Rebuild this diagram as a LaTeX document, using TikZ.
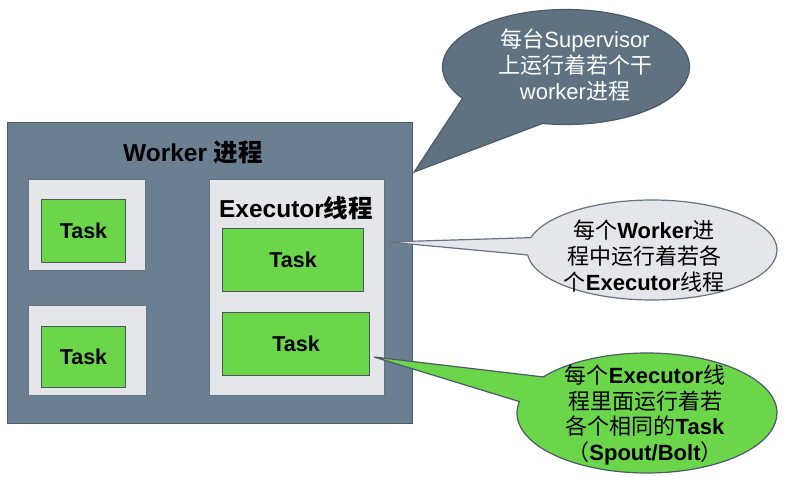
\documentclass[tikz,border=0pt]{standalone}
\usepackage{fontspec}
\setmainfont{Liberation Sans}
\newfontfamily\cjk{Noto Sans CJK SC}
\newcommand{\zh}[1]{{\cjk #1}}
\usetikzlibrary{shapes.callouts,positioning}

\definecolor{slate}{HTML}{6A7F91}
\definecolor{slateline}{HTML}{4A5A68}
\definecolor{execfill}{HTML}{E4E6E9}
\definecolor{execline}{HTML}{66737F}
\definecolor{taskgreen}{HTML}{6CD64A}
\definecolor{taskline}{HTML}{4D5560}
\definecolor{bubbledark}{HTML}{5E7282}

\begin{document}
\begin{tikzpicture}[x=1pt, y=-1pt,
  worker/.style={draw=slateline, fill=slate, line width=1.2pt, inner sep=0pt},
  executor/.style={draw=execline, fill=execfill, line width=1pt, inner sep=0pt},
  task/.style={draw=taskline, fill=taskgreen, line width=1pt, inner sep=0pt, font=\bfseries\fontsize{21.5}{25}\selectfont},
  title/.style={font=\bfseries\fontsize{24.5}{28}\selectfont},
  bubble/.style={ellipse callout, draw=slateline, line width=1.2pt, inner sep=0pt},
  bubbletext/.style={align=center, font=\fontsize{22}{26}\selectfont}
]
\useasboundingbox (0,0) rectangle (788,477);

% worker process
\node[worker, anchor=north west, minimum width=405, minimum height=301] (worker) at (7,122) {};
\node[title] (wtitle) at (193,152) {Worker \zh{\bfseries 进程}};

% executors
\node[executor, anchor=north west, minimum width=117, minimum height=91] (exec1) at (28,179) {};
\node[executor, anchor=north west, minimum width=118, minimum height=90] (exec2) at (28,305) {};
\node[executor, anchor=north west, minimum width=175, minimum height=216] (exec3) at (209,179) {};
\node[title] (etitle) at (296,208) {Executor\zh{\bfseries 线程}};

% tasks
\node[task, anchor=north west, minimum width=84, minimum height=63] (task1) at (41,199) {Task};
\node[task, anchor=north west, minimum width=84, minimum height=61] (task2) at (41,326) {Task};
\node[task, anchor=north west, minimum width=141, minimum height=63] (task3) at (222,228) {Task};
\node[task, anchor=north west, minimum width=147, minimum height=63] (task4) at (222,312) {Task};

% callouts
\coordinate (tip1) at ([xshift=1pt,yshift=-50pt]worker.north east);
\coordinate (tip2) at ([xshift=3pt,yshift=-63pt]exec3.north east);
\coordinate (tip3) at ([xshift=4pt,yshift=-45pt]task4.north east);

\node[bubble, fill=bubbledark, draw=slateline, minimum width=247, minimum height=115,
  callout absolute pointer={(tip1)}, callout pointer arc=46] (note1) at (566,67) {};
\node[bubbletext, text=white] at (575,65) {\zh{每台}Supervisor\\\zh{上运行着若个干}\\worker\zh{进程}};

\node[bubble, fill=execfill, draw=execline, minimum width=250, minimum height=100,
  callout absolute pointer={(tip2)}, callout pointer arc=20] (note2) at (652,250) {};
\node[bubbletext, font=\bfseries\fontsize{22}{26}\selectfont] at (644,256) {\zh{\mdseries 每个}Worker\zh{\mdseries 进}\\\zh{\mdseries 程中运行着若各}\\\zh{\mdseries 个}Executor\zh{\mdseries 线程}};

\node[bubble, fill=taskgreen, draw=slateline, minimum width=260, minimum height=120,
  callout absolute pointer={(tip3)}, callout pointer arc=26] (note3) at (647,413) {};
\node[bubbletext, font=\bfseries\fontsize{22}{25.5}\selectfont] at (645,415) {\zh{\mdseries 每个}Executor\zh{\mdseries 线}\\\zh{\mdseries 程里面运行着若}\\\zh{\mdseries 各个相同的}Task\\\zh{\mdseries （}Spout/Bolt\zh{\mdseries ）}};
\end{tikzpicture}
\end{document}
